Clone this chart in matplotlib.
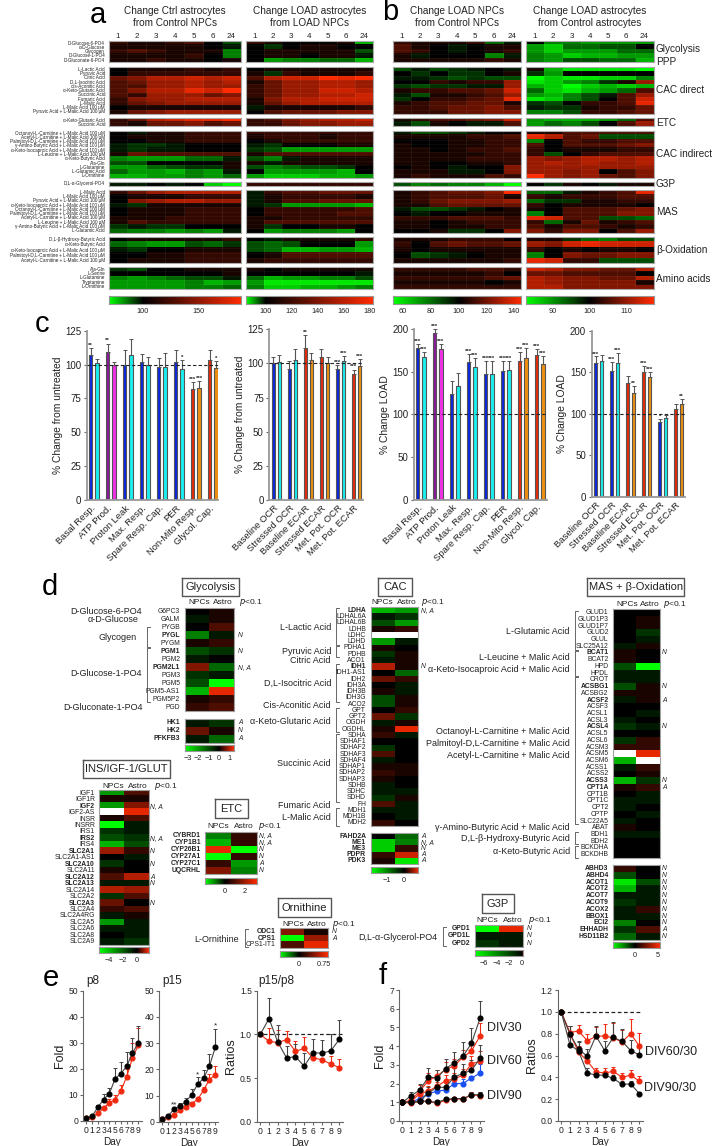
"""
heatmaps, bars and growth curves, one figure (panels a-f)
everything is placed in reference pixels through pixAxes()
"""

import numpy as np
import matplotlib
matplotlib.use('Agg')
from matplotlib import pylab as plt
from matplotlib.colors import LinearSegmentedColormap, TwoSlopeNorm

plt.rcParams['font.family'] = ['Liberation Sans', 'DejaVu Sans']

W = 715
H = 1146

# ---------------- panels a, b ----------------
HOURS = ['1', '2', '3', '4', '5', '6', '24']
GROUP_ROWS = [5, 11, 2, 11, 1, 10, 5, 5]
ROW_LABELS = [
    'D-Glucose-6-PO4', 'α-D-Glucose', 'Glycogen', 'D-Glucose-1-PO4', 'D-Gluconate-6-PO4',
    'L-Lactic Acid', 'Pyruvic Acid', 'Citric Acid', 'D,L-Isocitric Acid', 'cis-Aconitic Acid',
    'α-Keto-Glutaric Acid', 'Succinic Acid', 'Fumaric Acid', 'L-Malic Acid', 'L-Malic Acid 100 μM',
    'Pyruvic Acid + L-Malic Acid 100 μM',
    'α-Keto-Glutaric Acid', 'Succinic Acid',
    'Octanoyl-L-Carnitine + L-Malic Acid 100 μM', 'Acetyl-L-Carnitine + L-Malic Acid 100 μM',
    'Palmitoyl-D,L-Carnitine + L-Malic Acid 100 μM', 'γ-Amino-Butyric Acid + L-Malic Acid 100 μM',
    'α-Keto-Isocaproic Acid + L-Malic Acid 100 μM', 'L-Leucine + L-Malic Acid 100 μM',
    'α-Keto-Butyric Acid', 'Ala-Gln', 'L-Glutamine', 'L-Glutamic Acid', 'L-Ornithine',
    'D,L-α-Glycerol-PO4',
    'L-Malic Acid', 'L-Malic Acid 100 μM', 'Pyruvic Acid + L-Malic Acid 100 μM',
    'α-Keto-Isocaproic Acid + L-Malic Acid 100 μM', 'Octanoyl-L-Carnitine + L-Malic Acid 100 μM',
    'Palmitoyl-D,L-Carnitine + L-Malic Acid 100 μM', 'Acetyl-L-Carnitine + L-Malic Acid 100 μM',
    'L-Leucine + L-Malic Acid 100 μM', 'γ-Amino-Butyric Acid + L-Malic Acid 100 μM', 'L-Glutamic Acid',
    'D,L-β-Hydroxy-Butyric Acid', 'α-Keto-Butyric Acid', 'α-Keto-Isocaproic Acid + L-Malic Acid 100 μM',
    'Palmitoyl-D,L-Carnitine + L-Malic Acid 100 μM', 'Acetyl-L-Carnitine + L-Malic Acid 100 μM',
    'Ala-Gln', 'L-Serine', 'L-Glutamine', 'Tryptamine', 'L-Ornithine',
]
SIDE_LABELS = ['Glycolysis', 'PPP', 'CAC direct', 'ETC', 'CAC indirect', 'G3P', 'MAS', 'β-Oxidation', 'Amino acids']

HEAT_A1 = [
    [2, 1, 1, 2, 3, 0, -3], [1, 1, 1, 1, 1, 0, -1], [2, 3, 2, 1, 1, 1, -5], [1, 1, 1, 1, 2, 0, -5], [1, 1, 2, 1, 1, 0, 1],
    [0, 1, 1, 1, 2, 1, 2], [0, 2, 2, 2, 2, 2, 2], [4, 5, 7, 7, 8, 7, 8], [3, 4, 6, 6, 7, 6, 7], [3, 3, 6, 6, 7, 6, 6],
    [3, 5, 7, 7, 9, 8, 10], [3, 2, 6, 6, 6, 4, 5], [2, 5, 6, 6, 7, 7, 7], [2, 4, 5, 6, 6, 6, 6], [0, 1, 1, 1, 1, 1, 1],
    [1, 4, 5, 6, 6, 6, 6],
    [2, 4, 7, 8, 9, 9, 10], [2, 1, 4, 4, 5, 3, 4],
    [0, -1, 1, 1, 2, 2, 2], [0, 1, 1, 1, 2, 2, 2], [0, 0, 1, 1, 2, 2, 2], [-1, -2, -2, -1, 0, 0, 0], [-1, -2, -1, -1, 0, 0, 0],
    [1, 4, 3, 3, 3, 3, 3], [-5, -6, -6, -6, -4, -4, -1], [-3, -3, 0, 0, 0, 0, 1], [-6, -6, -4, -3, -2, -2, 1],
    [-4, -6, -6, -7, -5, -6, -1], [-7, -7, -6, -6, -5, -6, -4],
    [-1, -1, 0, -1, 0, -8, -10],
    [2, 4, 6, 7, 7, 7, 7], [0, 1, 1, 1, 2, 2, 2], [0, 5, 6, 7, 7, 6, 6], [-1, -2, 1, 1, 1, 1, 1], [0, 1, 1, 1, 2, 2, 2],
    [0, 1, 1, 1, 2, 2, 2], [1, 1, 1, 2, 2, 2, 2], [1, 3, 2, 2, 2, 2, 2], [-2, -1, -2, -2, 0, 0, 0], [-4, -5, -5, -6, -5, -6, -1],
    [0, 1, 1, 1, 1, 1, 2], [-4, -5, -6, -6, -3, -4, -2], [-1, -2, 0, 0, 1, 1, 1], [0, 0, 1, 1, 2, 2, 2], [0, 1, 1, 1, 2, 2, 2],
    [-2, -3, 0, 0, 1, 1, 1], [0, 0, 0, 0, 0, 0, 1], [-5, -6, -5, -4, -3, -3, -1], [-6, -6, -6, -6, -5, -7, -6], [-6, -6, -6, -6, -5, -5, -4],
]
HEAT_A2 = [
    [2, 1, 0, 0, 0, 1, -7], [0, -2, 0, 1, 1, 0, 0], [0, 1, 1, 1, 1, 1, -3], [0, 1, 1, 0, 1, 1, -1], [0, -6, -5, -5, -4, -4, -7],
    [0, 1, 1, 1, 1, 1, 1], [1, -2, 2, 1, 1, 1, 2], [3, 7, 8, 8, 10, 9, 10], [1, 4, 6, 6, 7, 7, 6], [2, 4, 6, 6, 7, 7, 6],
    [2, 4, 6, 6, 8, 8, 7], [2, 4, 6, 6, 7, 7, 8], [1, 5, 7, 7, 8, 8, 8], [1, 4, 6, 7, 7, 7, 7], [-1, 1, 1, 1, 1, 1, 2],
    [0, 3, 4, 4, 4, 5, 5],
    [2, 3, 5, 6, 7, 7, 8], [2, 2, 4, 5, 5, 6, 6],
    [2, 2, 2, 2, 2, 2, 2], [1, 2, 2, 2, 1, 2, 2], [0, 1, 2, 2, 2, 2, 2], [-1, -2, 0, 0, 0, 1, 1], [-2, -3, -6, -6, -6, -6, -6],
    [1, 3, 3, 3, 3, 3, 3], [-3, -5, -1, 1, 1, 1, 1], [1, -1, 1, 1, 1, 1, 1], [-3, -5, -4, -3, -3, -2, 0],
    [0, -6, -6, -6, -6, -7, 0], [-6, -8, -8, -8, -7, -7, -6],
    [2, 2, 2, 2, 2, 2, 2],
    [-1, 2, 3, 3, 4, 4, 4], [-1, 1, 2, 2, 2, 2, 1], [-1, 1, 3, 3, 4, 4, 4], [-1, -2, -6, -6, -6, -6, -7], [0, 2, 2, 2, 2, 2, 3],
    [0, 2, 2, 2, 2, 3, 3], [1, 1, 2, 2, 2, 2, 2], [1, 3, 3, 3, 3, 3, 3], [1, -2, 0, 0, 1, 1, 0], [0, -6, -5, -5, -5, -6, 0],
    [0, -1, 1, 1, 1, 1, 2], [-3, -4, -3, 0, 0, 0, -6], [-3, -4, -7, -7, -6, -6, -7], [0, 1, 3, 3, 3, 3, 3], [1, 2, 2, 2, 2, 2, 2],
    [1, 0, 1, 1, 1, 1, 1], [0, 0, 0, 0, 0, 0, -1], [-4, -7, -6, -6, -5, -5, -3], [-6, -9, -9, -9, -9, -9, -9], [-5, -8, -8, -7, -7, -6, -5],
]
HEAT_B1 = [
    [2, 1, 1, 1, 2, -4, -1], [3, 1, 0, -1, 0, 1, 1], [3, 2, 0, -1, 0, 1, 2], [1, -1, 0, 0, 0, -5, -1], [1, 1, 1, 1, 1, 2, 1],
    [-3, -1, -3, -2, -1, 0, -1], [0, -2, 0, -2, -2, 0, 1], [-1, -1, -2, -3, -2, -3, -3], [0, 0, 2, 1, 2, 2, 6], [-2, -3, -2, -2, -1, -1, 6],
    [1, 2, 2, 3, 3, 4, 8], [-1, -3, 1, 1, 2, 3, 6], [-2, 0, 2, 2, 3, 4, 9], [1, 2, 3, 3, 4, 4, 1], [2, 2, 3, 4, 4, 5, 3],
    [2, 2, 2, 4, 4, 5, 5],
    [1, 2, 3, 3, 4, 5, 8], [-1, -3, 1, 0, -1, -1, 3],
    [-1, -3, -3, -2, -1, 0, 0], [1, 1, 1, 1, 2, 2, 3], [0, 0, 0, 1, 1, 2, 2], [1, 0, 0, 1, 1, 2, 2], [1, 1, 0, 1, 2, 2, 3],
    [1, 1, 1, 1, 1, 2, 2], [1, 1, 1, 1, 2, 2, 2], [1, 1, 0, 0, 1, 1, 2], [0, 1, 0, -1, 0, 0, 5],
    [1, 1, 1, -1, -1, 0, 5], [1, 2, 1, 1, 1, 3, 2],
    [-3, -5, -4, -5, -5, -7, -10],
    [1, 2, 3, 4, 4, 5, 10], [1, 2, 3, 3, 3, 4, 1], [1, 2, 4, 5, 5, 5, 6], [1, 1, 3, 4, 4, 4, 4], [-1, -3, -3, -2, -1, 0, 1],
    [0, -1, 0, 0, 1, 1, 1], [2, 2, 2, 3, 3, 3, 2], [1, 1, 0, 1, 2, 2, 2], [1, 1, 0, 1, 1, 2, 2], [0, 0, 1, -2, -2, 0, 5],
    [1, 1, 1, 2, 2, 2, 0], [2, 0, 3, 4, 3, 3, 4], [1, 0, 1, 1, 1, 1, 1], [0, -3, -2, -1, 0, 1, 1], [1, 1, 1, 1, 1, 1, 2],
    [2, 2, 2, 2, 3, 3, 2], [1, 1, 1, 1, 1, 2, 0], [2, 2, 2, 2, 2, 3, 4], [1, 1, 1, 1, 1, 0, 1], [2, 2, 2, 2, 2, 2, 2],
]
HEAT_B2 = [
    [0, -5, -5, -6, -6, -6, -6], [-6, -8, -4, -4, -3, -3, 0], [-6, -8, -6, -6, -6, -4, -4], [-5, -6, -8, -7, -7, -6, -6], [-5, -6, -3, -3, -4, -4, -7],
    [1, -7, -9, -9, -9, -9, -10], [-2, -6, 0, 0, 0, 0, 0], [-10, -8, -9, -9, -8, -8, -5], [-9, -8, -6, -5, -2, 1, 6], [-7, -8, -10, -8, -7, -8, -7],
    [-4, -8, -9, -7, -6, -4, 3], [-6, -7, -5, -3, -1, 3, 6], [-9, -8, -5, -3, 0, 3, 8], [-2, -3, 0, 2, 2, 3, 9], [-1, -2, -2, 1, 2, 2, 4],
    [-5, -5, -3, 2, 2, 3, 4],
    [-6, -7, -7, -7, -6, -4, 3], [-6, -4, -5, -3, 0, 3, 6],
    [1, 1, 3, 3, 3, 3, 3], [9, 7, 3, 4, -3, -3, -3], [-5, 0, 3, 2, 2, 3, 3], [3, 0, 3, 3, 3, 4, 5], [2, 0, 1, 1, 1, 2, 2],
    [2, -3, 0, 2, 3, 3, 3], [6, 5, 6, 7, 7, 6, 7], [6, 7, 6, 7, 6, 6, 7], [6, 6, 6, 6, 6, 6, 6],
    [6, 6, 5, 6, 0, 3, 5], [10, 6, 5, 6, 4, 3, 5],
    [0, -2, 1, 0, -1, 1, 1],
    [-4, -4, -1, 1, 2, 3, 9], [2, 1, 2, 2, 2, 3, 3], [-4, -2, -2, 1, 1, 2, 2], [2, 0, 1, 1, 1, 1, 0], [1, 0, 3, 3, 3, 4, 5],
    [-5, 0, 3, 3, 3, 5, 5], [9, 8, 3, 3, -3, -3, -4], [2, -4, 1, 4, 1, 2, 3], [3, 1, 3, 3, 2, 1, 2], [5, 2, 5, 5, 0, 3, 6],
    [1, 1, -2, -4, -5, -3, -3], [6, 5, 8, 9, 8, 8, 8], [2, 0, 1, 0, 1, 1, 0], [-5, 0, 5, 4, 4, 5, 5], [9, 8, 2, 2, -3, -3, -3],
    [8, 7, 5, 5, 4, 4, 7], [4, 4, 3, 3, 3, 3, 0], [7, 6, 5, 5, 4, 4, 7], [7, 6, 5, 5, 5, 5, 1], [7, 7, 5, 5, 5, 5, 5],
]
CBAR_A1 = [100, 150]
CBAR_A2 = [100, 120, 140, 160, 180]
CBAR_B1 = [60, 80, 100, 120, 140]
CBAR_B2 = [90, 100, 110]

# ---------------- panel c ----------------
BARS_LONG = ['Basal Resp.', 'ATP Prod.', 'Proton Leak', 'Max. Resp.', 'Spare Resp. Cap.', 'PER', 'Non-Mito Resp.', 'Glycol. Cap.']
BARS_SHORT = ['Baseline OCR', 'Stressed OCR', 'Baseline ECAR', 'Stressed ECAR', 'Met. Pot. OCR', 'Met. Pot. ECAR']
COLORS_LONG = [('#0a28e0', '#18f0f0'), ('#8a1a9a', '#f030e8'), ('#0a28e0', '#18f0f0'), ('#0a28e0', '#18f0f0'),
               ('#0a28e0', '#18f0f0'), ('#0a28e0', '#18f0f0'), ('#e82a08', '#f09010'), ('#e82a08', '#f09010')]
COLORS_SHORT = [('#0a28e0', '#18f0f0'), ('#0a28e0', '#18f0f0'), ('#e82a08', '#f09010'), ('#e82a08', '#f09010'),
                ('#0a28e0', '#18f0f0'), ('#e82a08', '#f09010')]

C1_VAL = [107, 101, 109.5, 100, 100, 107, 102, 99.5, 98, 98, 102, 97, 82, 83, 103.5, 97.5]
C1_ERR = [5, 3, 6, 2, 11, 12, 6, 6, 7, 10.5, 8.5, 6, 5, 5, 7, 5]
C1_STAR = ['**', '', '**', '', '', '', '', '', '', '', '', '*', '***', '***', '', '*']
C2_VAL = [100, 101, 96, 102.5, 111.5, 102.5, 104.5, 100.5, 96, 101.5, 92.5, 98]
C2_ERR = [5, 5, 6, 8, 9, 5, 6, 4, 3, 4, 3, 5]
C2_STAR = ['', '', '', '', '**', '', '', '', '***', '***', '***', '***']
C3_VAL = [178, 167, 195, 177, 124, 133, 161, 156, 147, 147, 151, 152, 163, 166, 169, 159]
C3_ERR = [5, 6, 5, 5, 15, 15, 10, 10, 15, 16, 12, 10, 10, 12, 8, 9]
C3_STAR = ['***', '***', '***', '***', '', '', '***', '***', '***', '***', '***', '***', '***', '***', '***', '***']
C4_VAL = [161, 163, 151, 161, 137, 125, 150, 144, 90, 95, 106, 112]
C4_ERR = [8, 8, 11, 12, 8, 8, 8, 6, 4, 4, 6, 6]
C4_STAR = ['***', '', '***', '***', '', '**', '***', '***', '*', '', '', '**']

# ---------------- panel d ----------------
GLY_GENES = ['G6PC3', 'GALM', 'PYGB', 'PYGL', 'PYGM', 'PGM1', 'PGM2', 'PGM2L1', 'PGM3', 'PGM5', 'PGM5-AS1', 'PGM5P2', 'PGD']
GLY_VALS = [[0, 1], [-1, 1], [0, 3], [-5, -1], [1, 2], [-3, -2], [-1, 0], [5, -4], [-2, -1], [-3, -10], [-7, 9], [1, 2], [2, 3]]
GLY_FLAGS = ['', '', '', 'N', '', 'N', '', 'N, A', '', '', '', '', '']
GLY2_GENES = ['HK1', 'HK2', 'PFKFB3']
GLY2_VALS = [[-1, -2], [4, 1], [-1, -4]]
GLY2_FLAGS = ['A', 'N', 'A']

CAC_GENES = ['LDHA', 'LDHAL6A', 'LDHAL6B', 'LDHB', 'LDHC', 'LDHD', 'PDHA1', 'PDHB', 'ACO1', 'IDH1', 'IDH1-AS1', 'IDH2',
             'IDH3A', 'IDH3B', 'IDH3G', 'ACO2', 'GPT', 'GPT2', 'OGDH', 'OGDHL', 'SDHA', 'SDHAF1', 'SDHAF2', 'SDHAF3',
             'SDHAF4', 'SDHAP1', 'SDHAP2', 'SDHAP3', 'SDHB', 'SDHC', 'SDHD', 'FH', 'MDH1', 'MDH1B', 'MDH2']
CAC_VALS = [[-7, -6], [-1, -2], [-3, -6], [1, 2], [np.nan, np.nan], [-6, -1], [1, 0], [-2, 1], [-1, 1], [7, 1], [0, -4], [4, 2],
            [0, -1], [1, -1], [-3, 1], [-3, 1], [0, 2], [4, -2], [-1, 1], [1, 9], [2, -1], [0, 0], [-2, 0], [3, 0],
            [-1, 0], [1, 1], [2, 1], [1, 0], [-1, 0], [-1, -1], [-2, 1], [3, -1], [-1, -1], [0, -1], [2, 0]]
CAC_FLAGS = {'LDHA': 'N, A', 'IDH1': 'N'}
CAC2_GENES = ['FAHD2A', 'ME1', 'ME3', 'PDPR', 'PDK3']
CAC2_VALS = [[0, -4], [-8, -5], [-8, 2], [2, 8], [1, -9]]
CAC2_FLAGS = ['A', 'N, A', 'N', 'A', 'A']

MAS_GENES = ['GLUD1', 'GLUD1P3', 'GLUD1P7', 'GLUD2', 'GLUL', 'SLC25A12', 'BCAT1', 'BCAT2', 'HPD', 'HPDL', 'CROT', 'ACSBG1',
             'ACSBG2', 'ACSF2', 'ACSF3', 'ACSL1', 'ACSL3', 'ACSL4', 'ACSL5', 'ACSL6', 'ACSM3', 'ACSM5', 'ACSM6', 'ACSS1',
             'ACSS2', 'ACSS3', 'CPT1A', 'CPT1B', 'CPT1C', 'CPT2', 'CPTP', 'SLC22A5', 'ABAT', 'BDH1', 'BDH2', 'BCKDHA', 'BCKDHB']
MAS_VALS = [[0, 0], [0, 1], [0, 1], [0, -2], [0, -1], [-1, 1], [1, 0], [1, 0], [-3, -10], [-1, -1], [-1, -1], [-3, 1],
            [1, 1], [-1, 1], [0, 0], [0, -1], [-1, 0], [-2, -1], [0, 0], [-2, 2], [2, 2], [np.nan, 9], [-7, np.nan], [-1, 2],
            [0, 1], [-7, -2], [1, 2], [0, -1], [-1, -1], [-1, 0], [0, -1], [-1, 0], [1, 0], [-1, -1], [0, 0], [0, 0], [0, 0]]
MAS_FLAGS = {'BCAT1': 'N', 'ACSBG1': 'N', 'ACSF2': 'A', 'ACSL4': 'N', 'ACSS3': 'N', 'CPT1A': 'A'}
MAS2_GENES = ['ABHD3', 'ABHD4', 'ACOT1', 'ACOT2', 'ACOT7', 'ACOT9', 'ACOX2', 'BBOX1', 'ECI2', 'EHHADH', 'HSD11B2']
MAS2_VALS = [[2, 0], [-3, 0], [-9, -3], [-7, -1], [-1, -1], [-2, -1], [-1, 2], [-1, -1], [-5, 0], [-2, 3], [-4, -1]]
MAS2_FLAGS = ['N', 'N', 'N', 'N', 'N', 'N', 'N', 'N', 'N', 'A', 'N']

INS_GENES = ['IGF1', 'IGF1R', 'IGF2', 'IGF2-AS', 'INSR', 'INSRR', 'IRS1', 'IRS2', 'IRS4', 'SLC2A1', 'SLC2A1-AS1', 'SLC2A10',
             'SLC2A11', 'SLC2A12', 'SLC2A13', 'SLC2A14', 'SLC2A2', 'SLC2A3', 'SLC2A4', 'SLC2A4RG', 'SLC2A5', 'SLC2A6', 'SLC2A8', 'SLC2A9']
INS_VALS = [[-6, 3], [1, 1], [-6, 5], [np.nan, 9], [1, 3], [-10, -1], [-2, -1], [-3, -2], [-7, -3], [6, 2], [0, -1], [-2, 0],
            [1, 0], [3, 7], [-1, -1], [7, 6], [-2, 3], [4, 0], [2, 3], [-1, 1], [-6, -1], [-1, -1], [0, -1], [-1, -2]]
INS_FLAGS = {'IGF2': 'N, A', 'IRS2': 'N, A', 'SLC2A1': 'N', 'SLC2A10': 'N', 'SLC2A12': 'A', 'SLC2A13': 'N', 'SLC2A3': 'N'}

ETC_GENES = ['CYBRD1', 'CYP1B1', 'CYP26B1', 'CYP27A1', 'CYP27C1', 'UQCRHL']
ETC_VALS = [[-5, 2], [-7, 2], [9, -10], [-10, 2], [2, -6], [5, -5]]
ETC_FLAGS = ['N, A', 'N, A', 'N', 'N', 'A', 'N']
ORN_GENES = ['ODC1', 'CPS1', 'CPS1-IT1']
ORN_VALS = [[5, 1], [-10, 6], [3, 9]]
ORN_FLAGS = ['N', 'A', '']
G3P_GENES = ['GPD1', 'GPD1L', 'GPD2']
G3P_VALS = [[-10, 9], [-1, -1], [-2, -1]]
G3P_FLAGS = ['N', 'N', 'N']

# ---------------- panels e, f ----------------
DAYS = [0, 1, 2, 3, 4, 5, 6, 7, 8, 9]
E1_BLACK = [1, 1.8, 5.2, 8.2, 10.5, 16.2, 18.2, 21, 26, 30]
E1_BLACK_ERR = [0.2, 0.3, 1, 2, 2, 4, 4.3, 5.6, 6, 6.5]
E1_RED = [1, 1.7, 2.9, 4.8, 7, 8.2, 11.5, 17, 24.2, 29]
E1_RED_ERR = [0.2, 0.2, 0.4, 0.7, 1.3, 1.7, 2.5, 3, 5.7, 6.5]
E2_BLACK = [1, 2.2, 4.8, 6, 7.7, 10.3, 14.3, 16.5, 21.2, 28.5]
E2_BLACK_ERR = [0.2, 0.3, 1, 1, 1.5, 2.3, 2.7, 3.2, 4.8, 6.7]
E2_RED = [1, 1.8, 2.6, 4.3, 5.7, 6.9, 8.5, 12, 16.1, 17.9]
E2_RED_ERR = [0.2, 0.3, 0.3, 0.5, 0.6, 0.8, 1, 1.4, 2.2, 3.2]
E3_BLACK = [1, 1.18, 0.91, 0.73, 0.745, 0.635, 0.79, 0.785, 0.81, 0.945]
E3_BLACK_ERR = [0, 0.24, 0.2, 0.14, 0.14, 0.15, 0.16, 0.155, 0.19, 0.22]
E3_RED = [1, 0.92, 0.905, 0.94, 0.805, 0.84, 0.73, 0.71, 0.66, 0.62]
E3_RED_ERR = [0, 0.15, 0.15, 0.1, 0.12, 0.13, 0, 0, 0.095, 0.1]

F1_30B = [1, 1.35, 1.65, 2.35, 2.3, 2.8, 3.1, 3.45, 4.15, 5.5]
F1_30B_ERR = [0.05, 0.2, 0.35, 0.5, 0.45, 0.5, 0.6, 0.75, 0.8, 0.9]
F1_30R = [1, 1.1, 1.6, 2.15, 2.4, 2.75, 2.95, 3.4, 3.75, 4.55]
F1_30R_ERR = [0.05, 0.15, 0.3, 0.4, 0.35, 0.4, 0.35, 0.4, 0.4, 0.7]
F1_60B = [1, 1.0, 1.05, 1.5, 1.8, 1.8, 2.35, 2.55, 2.7, 3.35]
F1_60B_ERR = [0.05, 0.1, 0.1, 0.3, 0.4, 0.3, 0.5, 0.5, 0.55, 0.7]
F1_60R = [1, 1.05, 1.45, 1.6, 1.85, 2.15, 2.25, 2.45, 3.05, 3.2]
F1_60R_ERR = [0.05, 0.1, 0.3, 0.25, 0.25, 0.3, 0.3, 0.35, 0.45, 0.55]
F1_BLUE = [1, 1.0, 1.2, 1.45, 1.6, 1.65, 2.0, 2.0, 2.3, 2.55]
F1_BLUE_ERR = [0.05, 0.1, 0.1, 0.2, 0.15, 0.15, 0.2, 0.25, 0.1, 0.5]
F1_90B = [1, 1, 1.05, 1.05, 1.0, 1.15, 1.2, 1.2, 1.4, 1.4]
F1_90B_ERR = [0.05, 0.1, 0.1, 0.12, 0.1, 0.12, 0.08, 0.1, 0.15, 0.15]
F1_90R = [1, 0.95, 1.05, 1.05, 0.95, 1.1, 1.2, 1.15, 1.4, 1.35]
F1_90R_ERR = [0.05, 0.1, 0.1, 0.1, 0.1, 0.1, 0.1, 0.1, 0.15, 0.2]

F2_60B = [1, 0.8, 0.655, 0.595, 0.78, 0.645, 0.765, 0.73, 0.645, 0.605]
F2_60B_ERR = [0, 0.07, 0.07, 0.06, 0.09, 0.09, 0.14, 0.11, 0.1, 0.1]
F2_90B = [1, 0.7, 0.64, 0.44, 0.42, 0.42, 0.39, 0.335, 0.34, 0.25]
F2_90B_ERR = [0, 0.07, 0.09, 0.05, 0.03, 0.03, 0.03, 0.03, 0.03, 0.02]
F2_60R = [1, 0.81, 0.825, 0.735, 0.775, 0.78, 0.76, 0.725, 0.8, 0.685]
F2_60R_ERR = [0, 0.06, 0.05, 0.06, 0.09, 0.11, 0.14, 0.11, 0.13, 0.12]
F2_90R = [1, 0.8, 0.63, 0.55, 0.45, 0.44, 0.455, 0.4, 0.42, 0.365]
F2_90R_ERR = [0, 0.07, 0.06, 0.05, 0.04, 0.05, 0.04, 0.04, 0.05, 0.045]

GBR = LinearSegmentedColormap.from_list('gbr', [(0, 1, 0), (0, 0, 0), (1, 0.17, 0)])
GBR.set_bad('white')
AXGRAY = '#666666'
TXT = '#222222'

fig = plt.figure(figsize=(W / 100, H / 100), dpi=100)
page = fig.add_axes([0, 0, 1, 1], zorder=5)
page.set_xlim(0, W)
page.set_ylim(H, 0)
page.axis('off')
page.patch.set_alpha(0)


# axes from reference pixels (left, top, right, bottom)
def pixAxes(x0, y0, x1, y1):
    return fig.add_axes([x0 / W, 1 - y1 / H, (x1 - x0) / W, (y1 - y0) / H])


def label(x, y, s, size=6.5, ha='right', **kw):
    kw.setdefault('color', TXT)
    page.text(x, y, s, fontsize=size, ha=ha, va='center', **kw)


def heat(x0, y0, x1, y1, vals, edge='#a0a0a0', grid=False):
    ax = pixAxes(x0, y0, x1, y1)
    m = np.array(vals, dtype=float)
    ax.imshow(m, cmap=GBR, vmin=-10, vmax=10, aspect='auto', interpolation='nearest')
    if grid:
        # very faint cell lines like the source image
        for c in range(1, m.shape[1]):
            ax.axvline(c - 0.5, color='white', lw=0.4, alpha=0.12)
        for r in range(1, m.shape[0]):
            ax.axhline(r - 0.5, color='white', lw=0.4, alpha=0.07)
    ax.set_xticks([])
    ax.set_yticks([])
    for s in ax.spines.values():
        s.set_color(edge)
        s.set_linewidth(0.8)
    return ax


def cbar(x0, y0, x1, y1, vmin, pivot, vmax, ticks, ticklabels=None, size=5.3, pad=3):
    ax = pixAxes(x0, y0, x1, y1)
    xs = np.linspace(vmin, vmax, 256)
    norm = TwoSlopeNorm(vmin=vmin, vcenter=pivot, vmax=vmax)
    ax.imshow(norm(xs)[None, :], cmap=GBR, vmin=0, vmax=1, aspect='auto', extent=[vmin, vmax, 0, 1])
    ax.set_yticks([])
    ax.set_xticks(ticks)
    if ticklabels is not None:
        ax.set_xticklabels(ticklabels)
    ax.tick_params(axis='x', length=0, labelsize=size, labelcolor=TXT, pad=pad)
    for s in ax.spines.values():
        s.set_color('#999999')
        s.set_linewidth(0.8)


def titleBox(x0, y0, x1, y1, s, size=8):
    page.plot([x0, x1, x1, x0, x0], [y0, y0, y1, y1, y0], color='#555555', lw=1)
    label((x0 + x1) / 2, (y0 + y1) / 2 + 0.5, s, size=size, ha='center')


def bracket(x, y0, y1, tick=2.5):
    page.plot([x + tick, x, x, x + tick], [y0, y0, y1, y1], color='#666666', lw=0.7)


def geneColumn(xr, y0, y1, genes, bold, size=4.9):
    h = (y1 - y0) / len(genes)
    for i, g in enumerate(genes):
        label(xr, y0 + h * (i + 0.5), g, size=size, fontweight='bold' if g in bold else 'normal')


def flagColumn(x, y0, y1, flags, size=4.9):
    h = (y1 - y0) / len(flags)
    for i, f in enumerate(flags):
        if f:
            label(x, y0 + h * (i + 0.5), f, size=size, ha='left', style='italic')


def headers(xn, xa, xp, y, size=6.0):
    label(xn, y, 'NPCs', size=size, ha='center')
    label(xa, y, 'Astro', size=size, ha='center')
    page.text(xp, y, r'$\it{p}$<0.1', fontsize=size, ha='left', va='center', color=TXT,
              math_fontfamily='dejavusans')


# ---------------- a, b ----------------
GROUP_Y = [(41, 62.3), (67, 114), (118, 126.3), (131, 178), (182, 186), (190.3, 232.7), (237, 263.3), (267, 288.7)]
PANELS_X = [(108.5, 241), (246, 373), (392.5, 521), (526, 653.5)]
PANELS_M = [HEAT_A1, HEAT_A2, HEAT_B1, HEAT_B2]
PANELS_T = [('Change Ctrl astrocytes', 'from Control NPCs'), ('Change LOAD astrocytes', 'from LOAD NPCs'),
            ('Change LOAD NPCs', 'from Control NPCs'), ('Change LOAD astrocytes', 'from Control astrocytes')]

for (x0, x1), mat, tt in zip(PANELS_X, PANELS_M, PANELS_T):
    start = 0
    for n, (y0, y1) in zip(GROUP_ROWS, GROUP_Y):
        heat(x0, y0, x1, y1, mat[start:start + n], edge='#aaaaaa', grid=True)
        start += n
    xc = (x0 + x1) / 2
    label(xc, 11.5, tt[0], size=7.2, ha='center')
    label(xc, 23, tt[1], size=7.2, ha='center')
    step = (x1 - x0) / 7
    for i, h in enumerate(HOURS):
        label(x0 + step * (i + 0.5), 36, h, size=5.8, ha='center')

start = 0
for n, (y0, y1) in zip(GROUP_ROWS, GROUP_Y):
    step = (y1 - y0) / n
    for i in range(n):
        label(105, y0 + step * (i + 0.5), ROW_LABELS[start + i], size=3.3)
    start += n

for s, y in zip(SIDE_LABELS, [49, 62, 90, 123, 154, 184, 212, 250, 279]):
    label(656, y, s, size=7.2, ha='left')

cbar(108.5, 296, 241, 304, 69.6, 100, 188.4, CBAR_A1)
cbar(246, 296, 373, 304, 85, 100, 183, CBAR_A2)
cbar(392.5, 296, 521, 304, 52.9, 100, 145, CBAR_B1)
cbar(526, 296, 653.5, 304, 82.7, 100, 117.5, CBAR_B2)


# ---------------- c ----------------
def barPanel(box, ymax, yticks, ylab, vals, errs, stars, names, colors, xlim, off, width, star_pad):
    ax = pixAxes(*box)
    for i, (v, e, st) in enumerate(zip(vals, errs, stars)):
        g = i // 2
        side = i % 2
        x = g + (off if side else -off)
        ax.bar(x, v, width=width, color=colors[g][side], edgecolor='#555555', linewidth=0.8)
        ax.errorbar(x, v, yerr=[[0], [e]], color='#555555', capsize=1.2, elinewidth=0.8, capthick=0.7)
        if st:
            ax.text(x, v + e + star_pad, st, fontsize=4.4, ha='center', va='center', color=TXT, fontweight='bold')
    ax.axhline(100, color='#222222', lw=0.8, dashes=(3, 2), zorder=4)
    ax.set_xlim(*xlim)
    ax.set_ylim(0, ymax)
    ax.set_yticks(yticks)
    ax.set_xticks(range(len(names)))
    ax.set_xticklabels(names, rotation=45, ha='right', va='center', rotation_mode='anchor', fontsize=6.8, color=TXT)
    ax.tick_params(axis='y', labelsize=7, labelcolor=TXT, length=2.5, width=0.8, color=AXGRAY, pad=1.5)
    ax.tick_params(axis='x', length=0, pad=5)
    ax.spines['top'].set_visible(False)
    ax.spines['right'].set_visible(False)
    ax.spines['left'].set_color('#999999')
    ax.spines['left'].set_linewidth(1.3)
    ax.spines['bottom'].set_color('#999999')
    ax.spines['bottom'].set_linewidth(1.3)
    ax.set_ylabel(ylab, fontsize=7.4, color=TXT, labelpad=2)
    ax.patch.set_alpha(0)
    return ax


barPanel((87, 330.7, 218, 500), 125, [0, 25, 50, 75, 100, 125], '% Change from untreated', C1_VAL, C1_ERR, C1_STAR,
         BARS_LONG, COLORS_LONG, (-0.4, 7.3), 0.186, 0.2, 2)
barPanel((269.3, 329.3, 363, 500), 125, [0, 25, 50, 75, 100, 125], '% Change from untreated', C2_VAL, C2_ERR, C2_STAR,
         BARS_SHORT, COLORS_SHORT, (-0.44, 5.4), 0.19, 0.21, 2)
barPanel((414, 329, 547, 499.7), 200, [0, 50, 100, 150, 200], '% Change LOAD', C3_VAL, C3_ERR, C3_STAR,
         BARS_LONG, COLORS_LONG, (-0.4, 7.42), 0.186, 0.2, 3)
barPanel((591.7, 330.7, 685, 497), 200, [0, 50, 100, 150, 200], '% Change LOAD', C4_VAL, C4_ERR, C4_STAR,
         BARS_SHORT, COLORS_SHORT, (-0.44, 5.39), 0.19, 0.21, 3)

# ---------------- d ----------------
# Glycolysis
titleBox(181.7, 578, 238.7, 596, 'Glycolysis')
headers(199, 223, 239, 602.5)
heat(185, 607.7, 234, 711, GLY_VALS)
heat(185, 718.7, 234, 742.7, GLY2_VALS)
cbar(185, 745, 234, 751, -3.24, 0, 1.43, [-3, -2, -1, 0, 1])
geneColumn(180, 607.7, 711, GLY_GENES, ['PYGL', 'PGM1', 'PGM2L1'])
geneColumn(180, 718.7, 742.7, GLY2_GENES, GLY2_GENES)
flagColumn(238, 607.7, 711, GLY_FLAGS)
flagColumn(238, 718.7, 742.7, GLY2_FLAGS)
for s, x, y in [('D-Glucose-6-PO4', 141.7, 612), ('α-D-Glucose', 139, 620), ('Glycogen', 137, 637.7),
                ('D-Glucose-1-PO4', 141.7, 674), ('D-Gluconate-1-PO4', 142.7, 707.7)]:
    label(x, y, s)
bracket(147, 626.7, 646.7)
bracket(147, 648, 701.7)

# CAC
titleBox(378.3, 578, 411.7, 596, 'CAC')
headers(382, 407, 421, 603)
heat(370.7, 607.3, 418.3, 826, CAC_VALS)
heat(370.7, 833.3, 418.3, 864, CAC2_VALS)
cbar(370.7, 867, 418.3, 873, -1.91, 0, 0.835, [-1, 0])
geneColumn(366, 607.3, 826, CAC_GENES, ['LDHA', 'IDH1'])
geneColumn(366, 833.3, 864, CAC2_GENES, CAC2_GENES)
flagColumn(421, 607.3, 826, [CAC_FLAGS.get(g, '') for g in CAC_GENES])
flagColumn(421, 833.3, 864, CAC2_FLAGS)
for s, y in [('L-Lactic Acid', 627), ('Pyruvic Acid', 651), ('Citric Acid', 660.7), ('D,L-Isocitric Acid', 683),
             ('Cis-Aconitic Acid', 705), ('α-Keto-Glutaric Acid', 721), ('Succinic Acid', 763), ('Fumaric Acid', 806),
             ('L-Malic Acid', 818)]:
    label(331, y, s)
bracket(336, 607.5, 645)
bracket(336, 646, 657)
bracket(336, 664, 702)
bracket(336, 708, 732)
bracket(336, 734, 802)
bracket(336, 808, 826)

# MAS + beta-oxidation
titleBox(587.3, 578, 684, 596, 'MAS + β-Oxidation')
headers(626.7, 650, 663, 604.5)
heat(613.3, 609.3, 660, 858, MAS_VALS)
heat(613.3, 865, 660, 940, MAS2_VALS)
cbar(613.3, 942, 660, 948, -4.7, 0, 5.4, [0, 5])
geneColumn(608.7, 609.3, 858, MAS_GENES, ['BCAT1', 'ACSBG1', 'ACSF2', 'ACSL4', 'ACSS3', 'CPT1A'])
geneColumn(608.7, 865, 940, MAS2_GENES, MAS2_GENES)
flagColumn(662, 609.3, 858, [MAS_FLAGS.get(g, '') for g in MAS_GENES])
flagColumn(662, 865, 940, MAS2_FLAGS)
for s, y in [('L-Glutamic Acid', 632), ('L-Leucine + Malic Acid', 657), ('α-Keto-Isocaproic Acid + Malic Acid', 669),
             ('Octanoyl-L-Carnitine + Malic Acid', 731), ('Palmitoyl-D,L-Carnitine + Malic Acid', 744),
             ('Acetyl-L-Carnitine + Malic Acid', 756), ('γ-Amino-Butyric Acid + Malic Acid', 827),
             ('D,L-β-Hydroxy-Butyric Acid', 838.7), ('α-Keto-Butyric Acid', 851)]:
    label(570, y, s)
bracket(575, 611, 650)
bracket(575, 651, 676)
bracket(575, 677, 824)
bracket(575, 832, 844)
bracket(575, 846, 858)

# INS/IGF-1/GLUT
titleBox(83, 760, 170, 778, 'INS/IGF-1/GLUT')
headers(113, 137.7, 154, 786)
heat(99.3, 790, 149, 945, INS_VALS)
cbar(99.3, 947, 149, 953, -5.39, 0, 1.71, [-4, -2, 0])
geneColumn(95, 790, 945, INS_GENES, INS_FLAGS.keys())
flagColumn(150, 790, 945, [INS_FLAGS.get(g, '') for g in INS_GENES])

# ETC
titleBox(215, 799, 247.7, 818, 'ETC')
headers(218, 244.3, 258, 826.7)
heat(205, 832, 256.7, 874, ETC_VALS)
cbar(205, 877.7, 256.7, 884, -2, 0, 3.17, [0, 2])
geneColumn(201, 832, 874, ETC_GENES, ETC_GENES)
flagColumn(259, 832, 874, ETC_FLAGS)

# Ornithine
titleBox(277.7, 898, 330.7, 916.7, 'Ornithine')
headers(292.7, 316.7, 332, 924)
heat(280, 928, 328, 948, ORN_VALS)
cbar(280, 951, 328, 957, -0.57, 0, 0.87, [0, 0.75], ['0', '0.75'])
geneColumn(276, 928, 948, ORN_GENES, ['ODC1', 'CPS1'])
flagColumn(332, 928, 948, ORN_FLAGS)
label(239, 939, 'L-Ornithine')
bracket(245, 929, 947)

# G3P
titleBox(481.7, 894, 514.3, 912.7, 'G3P')
headers(487, 513, 527.7, 920)
heat(475, 925, 523.3, 946.7, G3P_VALS)
cbar(475, 950, 523.3, 956, -7.41, 0, 0.25, [-6, -4, -2, 0])
geneColumn(470.7, 925, 946.7, G3P_GENES, G3P_GENES)
flagColumn(527, 925, 946.7, G3P_FLAGS)
label(437.7, 937.7, 'D,L-α-Glycerol-PO4')
bracket(443, 927, 946)


# ---------------- e, f ----------------
def curve(ax, ys, errs, color, line=None, ms=3.4):
    ax.errorbar(DAYS, ys, yerr=[np.zeros(len(errs)), errs], fmt='-o', color=line or color, mfc=color, mec=color, ms=ms,
                lw=0.8, elinewidth=0.8, capsize=1.6, capthick=0.7)


def linePanel(box, ylim, yticks, ylab, xlim, yfmt=None, ysize=6.2, labsize=9):
    ax = pixAxes(*box)
    ax.set_xlim(*xlim)
    ax.set_ylim(*ylim)
    ax.set_yticks(yticks)
    if yfmt:
        ax.set_yticklabels([yfmt % v for v in yticks])
    ax.set_xticks(DAYS)
    ax.tick_params(labelsize=ysize, labelcolor=TXT, length=2, width=0.8, color=AXGRAY, pad=1.5)
    ax.spines['top'].set_visible(False)
    ax.spines['right'].set_visible(False)
    ax.spines['left'].set_color(AXGRAY)
    ax.spines['bottom'].set_color(AXGRAY)
    ax.set_xlabel('Day', fontsize=7.2, color=TXT, labelpad=1.5)
    if ylab:
        ax.set_ylabel(ylab, fontsize=labsize, color=TXT, labelpad=2)
    ax.patch.set_alpha(0)
    return ax


ax = linePanel((83.3, 990.7, 141.7, 1121), (0, 50), [0, 10, 20, 30, 40, 50], 'Fold', (-0.5, 9.6))
curve(ax, E1_RED, E1_RED_ERR, '#f02a10')
curve(ax, E1_BLACK, E1_BLACK_ERR, 'black', '#444444')
label(86, 981, 'p8', size=8.5, ha='left')

ax = linePanel((159.3, 990.7, 218, 1121.7), (0, 50), [0, 10, 20, 30, 40, 50], None, (-0.5, 9.45))
curve(ax, E2_RED, E2_RED_ERR, '#f02a10')
curve(ax, E2_BLACK, E2_BLACK_ERR, 'black', '#444444')
for d, s, y in [(2, '**', E2_BLACK[2] + 1.8), (6, '*', E2_BLACK[6] + 3.6), (9, '*', E2_BLACK[9] + 8)]:
    ax.text(d, y, s, fontsize=6, ha='center', va='center', color=TXT)
label(162, 981, 'p15', size=8.5, ha='left')

ax = linePanel((256.7, 990.7, 343, 1121.7), (0, 1.5), [0, 0.5, 1.0, 1.5], 'Ratios', (-0.4, 9.4), '%.1f')
ax.axhline(1, color='#222222', lw=0.9, dashes=(3, 2))
curve(ax, E3_RED, E3_RED_ERR, '#f02a10')
curve(ax, E3_BLACK, E3_BLACK_ERR, 'black', '#444444')
label(258, 981, 'p15/p8', size=8.5, ha='left')

ax = linePanel((399, 990, 484, 1121), (0, 7), list(range(8)), 'Fold', (-0.4, 9.45))
curve(ax, F1_BLUE, F1_BLUE_ERR, '#1a50f0')
curve(ax, F1_30R, F1_30R_ERR, '#f02a10')
curve(ax, F1_60R, F1_60R_ERR, '#f02a10')
curve(ax, F1_90R, F1_90R_ERR, '#f02a10')
curve(ax, F1_30B, F1_30B_ERR, 'black', '#444444')
curve(ax, F1_60B, F1_60B_ERR, 'black', '#444444')
curve(ax, F1_90B, F1_90B_ERR, 'black', '#444444')
for s, y in [('DIV30', 1027.7), ('DIV60', 1061), ('DIV90', 1095.7)]:
    label(486.7, y, s, size=9, ha='left')

ax = linePanel((557.7, 990, 643.3, 1121), (0, 1.2), [0, 0.2, 0.4, 0.6, 0.8, 1.0, 1.2], 'Ratios', (-0.4, 9.45), '%.1f')
ax.plot([0, 9.2], [1, 1], color='#222222', lw=0.9, dashes=(3, 2))
curve(ax, F2_60R, F2_60R_ERR, '#f02a10')
curve(ax, F2_90R, F2_90R_ERR, '#f02a10')
curve(ax, F2_60B, F2_60B_ERR, 'black', '#444444')
curve(ax, F2_90B, F2_90B_ERR, 'black', '#444444')
label(645, 1051.7, 'DIV60/30', size=9, ha='left')
label(644, 1087.7, 'DIV90/30', size=9, ha='left')

# panel letters
for s, x, y in [('a', 98, 15), ('b', 390, 12), ('c', 42, 324), ('d', 50, 587), ('e', 51, 978), ('f', 383, 976)]:
    page.text(x, y, s, fontsize=21, ha='center', va='center', color='black')

fig.savefig('out.png', dpi=100)
